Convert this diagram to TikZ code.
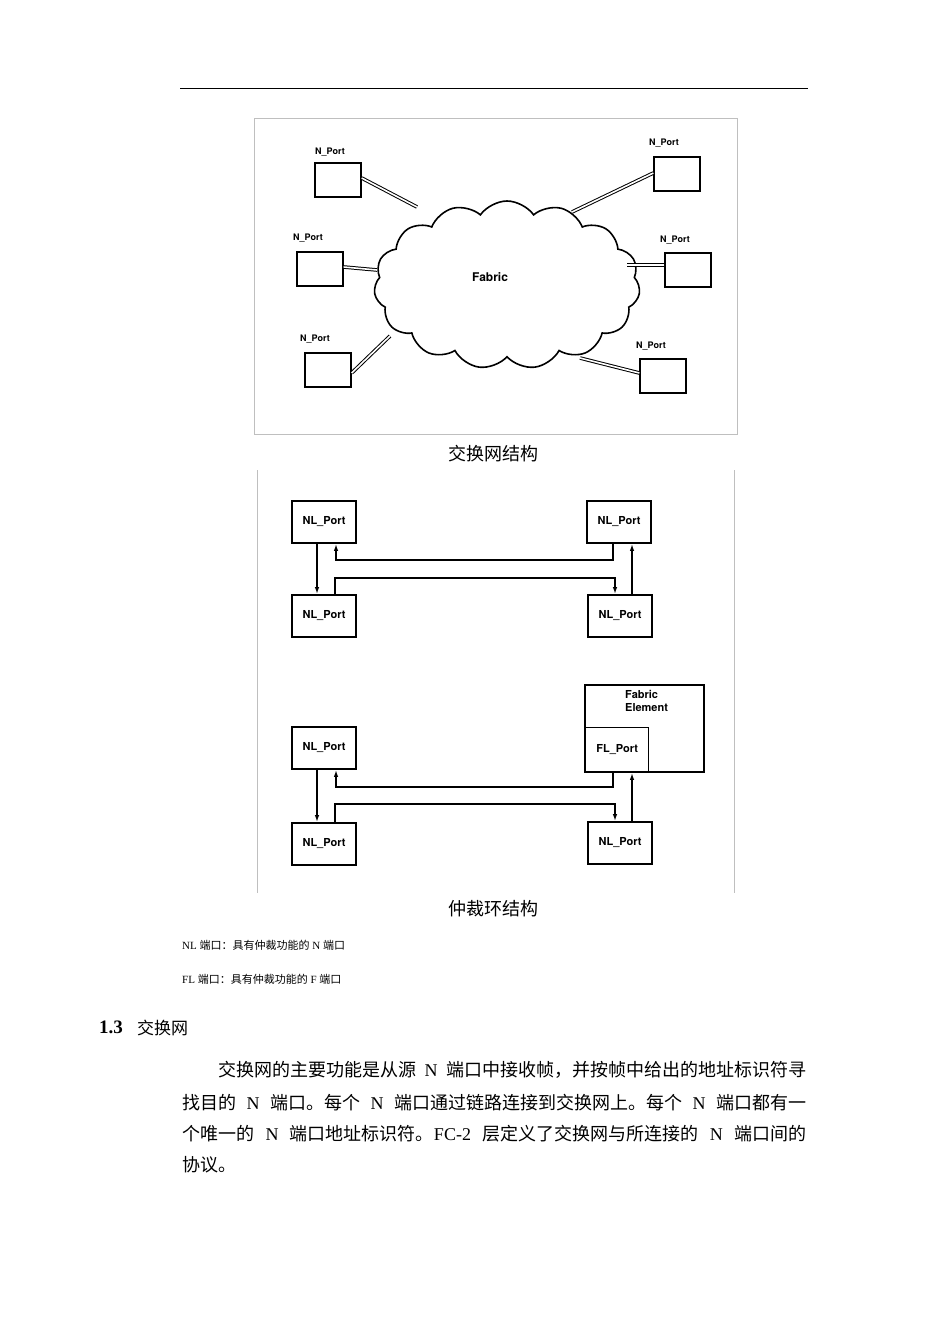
\documentclass[tikz,border=0pt]{standalone}
\usepackage{fontspec}
\usetikzlibrary{shapes.symbols,arrows.meta}
\setmainfont{Liberation Serif}
\newfontfamily\cjk{Noto Sans CJK SC}
\newfontfamily\lbl{TeX Gyre Heros}
\newcommand\C[1]{{\cjk #1}}
\tikzset{
 port/.style={draw,line width=1.3pt,minimum width=46pt,minimum height=34pt,inner sep=0},
 plbl/.style={font=\lbl\bfseries\fontsize{9}{10}\selectfont,inner sep=0},
 nl/.style={draw,line width=1.8pt,minimum width=64pt,minimum height=42pt,inner sep=0,font=\lbl\bfseries\fontsize{11}{12}\selectfont},
 link/.style={double,double distance=1.6pt,line width=1pt},
 ar/.style={line width=1.4pt,-{Latex[length=7pt,width=4.5pt]}},
 txt/.style={inner sep=0,anchor=west,font=\fontsize{18}{20}\selectfont}
}
\begin{document}
\begin{tikzpicture}[x=1pt,y=-1pt]
\useasboundingbox (0,0) rectangle (950,1344);
\draw[line width=0.8pt] (180,88) -- (808,88);
% figure 1
\draw[gray!50] (254,118) rectangle (737,434);
\node[cloud,cloud puffs=15,cloud puff arc=110,draw,line width=1.6pt,minimum width=266pt,minimum height=168pt,aspect=1.6] (cl) at (507,285) {};
\node[font=\lbl\bfseries\fontsize{12}{12}\selectfont] at (490,277) {Fabric};
\node[port] (p1) at (338,180) {}; \node[plbl] at (330,152) {N\_Port};
\node[port] (p2) at (677,174) {}; \node[plbl] at (664,143) {N\_Port};
\node[port] (p3) at (320,269) {}; \node[plbl] at (308,238) {N\_Port};
\node[port] (p4) at (688,270) {}; \node[plbl] at (675,240) {N\_Port};
\node[port] (p5) at (328,370) {}; \node[plbl] at (315,339) {N\_Port};
\node[port] (p6) at (663,376) {}; \node[plbl] at (651,346) {N\_Port};
\coordinate (c1) at (417,207); \coordinate (c2) at (572,212); \coordinate (c3) at (377,270);
\coordinate (c4) at (627,265); \coordinate (c5) at (390,336); \coordinate (c6) at (580,358);
\draw[link] (p1.east|-0,178) -- (c1);
\draw[link] (p2.west|-0,173) -- (c2);
\draw[link] (p3.east|-0,267) -- (c3);
\draw[link] (p4.west|-0,265) -- (c4);
\draw[link] (p5.east|-0,373) -- (c5);
\draw[link] (p6.west|-0,373) -- (c6);
\node[font=\cjk\fontsize{18}{20}\selectfont] at (493,454) {交换网结构};
% figure 2 frame
\draw[gray!50] (257,470) -- (257,893);
\draw[gray!50] (734,470) -- (734,893);
% loop 1
\node[nl] (a) at (324,522) {NL\_Port};
\node[nl] (b) at (619,522) {NL\_Port};
\node[nl] (c) at (324,616) {NL\_Port};
\node[nl] (d) at (620,616) {NL\_Port};
\draw[ar] (a.south-|317,0) -- (c.north-|317,0);
\draw[ar] (c.north-|335,0) |- (615,578) -- (d.north-|615,0);
\draw[ar] (d.north-|632,0) -- (b.south-|632,0);
\draw[ar] (b.south-|613,0) |- (336,560) -- (a.south-|336,0);
% loop 2
\node[nl] (e) at (324,748) {NL\_Port};
\node[draw,line width=1.8pt,minimum width=119pt,minimum height=87pt,inner sep=0] (fe) at (644.5,728.5) {};
\node[font=\lbl\bfseries\fontsize{11}{13}\selectfont,align=left,anchor=north west,inner sep=0] at (625,690) {Fabric\\Element};
\node[draw,line width=1.3pt,minimum width=63pt,minimum height=44pt,inner sep=0,anchor=south west,font=\lbl\bfseries\fontsize{11}{12}\selectfont] (fl) at (585,772) {FL\_Port};
\node[nl] (g) at (324,844) {NL\_Port};
\node[nl] (h) at (620,843) {NL\_Port};
\draw[ar] (e.south-|317,0) -- (g.north-|317,0);
\draw[ar] (g.north-|335,0) |- (615,804) -- (h.north-|615,0);
\draw[ar] (h.north-|632,0) -- (fe.south-|632,0);
\draw[ar] (fl.south-|613,0) |- (336,787) -- (e.south-|336,0);
\node[font=\cjk\fontsize{18}{20}\selectfont] at (493,909) {仲裁环结构};
% notes
\node[txt,font=\fontsize{11}{12}\selectfont] at (182,945) {NL \C{端口：具有仲裁功能的} N \C{端口}};
\node[txt,font=\fontsize{11}{12}\selectfont] at (182,979) {FL \C{端口：具有仲裁功能的} F \C{端口}};
\node[txt,font=\bfseries\fontsize{19}{20}\selectfont] at (99,1027) {1.3};
\node[txt,font=\cjk\fontsize{17}{20}\selectfont] at (137,1028) {交换网};
\node[txt] at (218,1070) {\makebox[588pt][s]{\C{交换网的主要功能是从源} N \C{端口中接收帧，并按帧中给出的地址标识符寻}}};
\node[txt] at (182,1103) {\makebox[624pt][s]{\C{找目的} N \C{端口。每个} N \C{端口通过链路连接到交换网上。每个} N \C{端口都有一}}};
\node[txt] at (182,1134) {\makebox[624pt][s]{\C{个唯一的} N \C{端口地址标识符。}FC-2 \C{层定义了交换网与所连接的} N \C{端口间的}}};
\node[txt] at (182,1165) {\C{协议。}};
\end{tikzpicture}
\end{document}
